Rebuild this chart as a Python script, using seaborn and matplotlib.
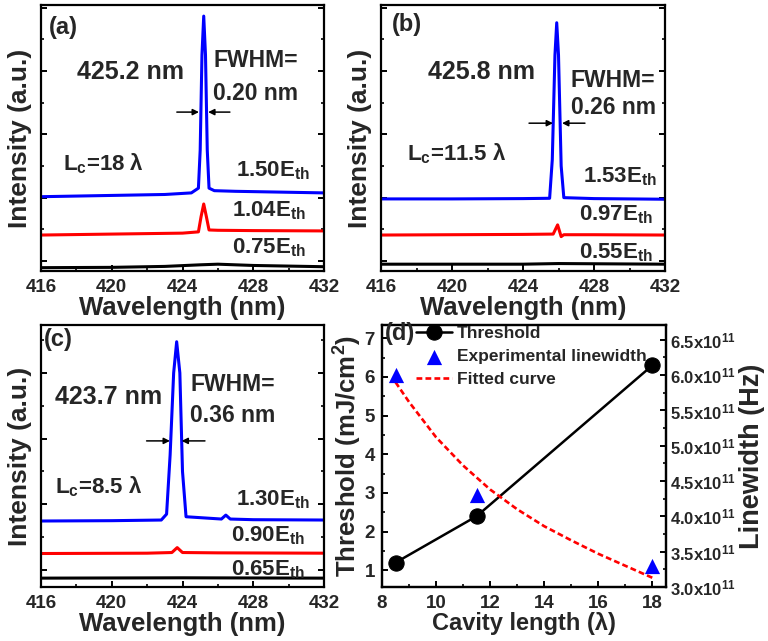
import numpy as np
import pandas as pd
import matplotlib
matplotlib.use("Agg")
import matplotlib.pyplot as plt
import seaborn as sns
from matplotlib.ticker import MultipleLocator, FixedLocator, FuncFormatter

# ---------------- data ----------------
# Panel (a)  L_c = 18 lambda
a_blue_x = [416, 420, 423, 424.5, 424.9, 425.0, 425.1, 425.2, 425.3, 425.4, 425.5, 425.8, 427, 430, 432]
a_blue_y = [3.03, 3.07, 3.10, 3.15, 3.30, 4.50, 7.50, 8.73, 7.50, 4.50, 3.30, 3.22, 3.20, 3.17, 3.15]
a_red_x = [416, 420, 424, 424.9, 425.05, 425.2, 425.35, 425.5, 426, 428, 432]
a_red_y = [1.82, 1.85, 1.88, 1.92, 2.40, 2.80, 2.40, 1.98, 1.97, 1.96, 1.95]
a_blk_x = [416, 420, 423, 425, 426, 428, 432]
a_blk_y = [0.79, 0.80, 0.83, 0.88, 0.90, 0.86, 0.82]

# Panel (b)  L_c = 11.5 lambda
b_blue_x = [416, 420, 424, 425.5, 425.65, 425.8, 425.9, 426.0, 426.15, 426.3, 428, 432]
b_blue_y = [2.96, 2.96, 2.97, 2.98, 4.20, 7.50, 8.52, 7.50, 4.00, 3.00, 2.97, 2.95]
b_red_x = [416, 420, 424, 425.7, 425.95, 426.15, 426.3, 428, 432]
b_red_y = [1.82, 1.83, 1.84, 1.85, 2.14, 1.77, 1.83, 1.83, 1.82]
b_blk_x = [416, 424, 426, 432]
b_blk_y = [0.90, 0.90, 0.92, 0.90]

# Panel (c)  L_c = 8.5 lambda
c_blue_x = [416, 420, 422.8, 423.1, 423.3, 423.5, 423.67, 423.85, 424.0, 424.2, 426.2, 426.45, 426.7, 428, 432]
c_blue_y = [2.49, 2.50, 2.52, 2.70, 4.50, 7.00, 7.95, 7.00, 4.00, 2.62, 2.55, 2.67, 2.55, 2.53, 2.52]
c_red_x = [416, 422, 423.4, 423.7, 424.0, 426, 432]
c_red_y = [1.50, 1.51, 1.53, 1.68, 1.53, 1.52, 1.51]
c_blk_x = [416, 424, 432]
c_blk_y = [0.75, 0.76, 0.75]

# Panel (d)
cavity = [8.5, 11.5, 18]
threshold = [1.2, 2.4, 6.3]
linewidth_exp = [6.0e11, 4.3e11, 3.3e11]
fit_x = [8.5, 9, 10, 11, 12, 13, 14, 15, 16, 17, 18]
fit_y = [5.90e11, 5.62e11, 5.12e11, 4.72e11, 4.38e11, 4.10e11, 3.86e11, 3.66e11, 3.47e11, 3.30e11, 3.13e11]

xticks_wl = [416, 420, 424, 428, 432]
# ---------------------------------------------------------------

sns.set_theme(style="ticks")
plt.rcParams["font.family"] = ["Liberation Sans", "DejaVu Sans"]
plt.rcParams["font.weight"] = "bold"
plt.rcParams["axes.labelweight"] = "bold"
plt.rcParams["mathtext.fontset"] = "custom"
plt.rcParams["mathtext.rm"] = "Liberation Sans:bold"
plt.rcParams["mathtext.it"] = "Liberation Sans:bold"
plt.rcParams["mathtext.bf"] = "Liberation Sans:bold"
plt.rcParams["axes.linewidth"] = 1.6

W, H = 768, 641
fig = plt.figure(figsize=(W / 100, H / 100), dpi=100)


def rect(l, t, r, b):
    return [l / W, 1 - b / H, (r - l) / W, (b - t) / H]


axA = fig.add_axes(rect(41, 5, 324, 271))
axB = fig.add_axes(rect(381, 5, 665, 271))
axC = fig.add_axes(rect(41, 325, 324, 587))
axD = fig.add_axes(rect(382, 325, 666, 587))
axD2 = axD.twinx()

LW = 2.2
TICKFS = 13.5
LABELFS = 18.5


def spectrum(ax, blue, red, blk, ylim):
    for (x, y), c in zip([blk, red, blue], ["black", "red", "blue"]):
        sns.lineplot(x=x, y=y, ax=ax, color=c, lw=LW, estimator=None, sort=False)
    ax.set_xlim(416, 432)
    ax.set_ylim(*ylim)
    ax.set_xticks(xticks_wl)
    ax.set_xticklabels([str(v) for v in xticks_wl], fontweight="bold", fontsize=TICKFS)
    ax.xaxis.set_minor_locator(MultipleLocator(2))
    ax.yaxis.set_major_locator(FixedLocator([1, 3, 5, 7, 9]))
    ax.yaxis.set_minor_locator(FixedLocator([2, 4, 6, 8]))
    ax.set_yticklabels([])
    ax.tick_params(axis="both", which="both", direction="in", right=True, top=False,
                   color="black")
    ax.tick_params(axis="both", which="major", length=4.5, width=1.4, pad=6)
    ax.tick_params(axis="both", which="minor", length=2.5, width=1.2)
    ax.set_xlabel("Wavelength (nm)", fontsize=LABELFS, fontweight="bold", labelpad=0)
    ax.set_ylabel("Intensity (a.u.)", fontsize=LABELFS + 0.5, fontweight="bold", labelpad=0.5)
    for s in ax.spines.values():
        s.set_color("black")
        s.set_linewidth(1.6)


spectrum(axA, (a_blue_x, a_blue_y), (a_red_x, a_red_y), (a_blk_x, a_blk_y), (0.685, 9.08))
spectrum(axB, (b_blue_x, b_blue_y), (b_red_x, b_red_y), (b_blk_x, b_blk_y), (0.685, 9.08))
spectrum(axC, (c_blue_x, c_blue_y), (c_red_x, c_red_y), (c_blk_x, c_blk_y), (0.48, 8.46))


def annotate_panel(ax, tag, wl, fwhm, lc, labels, pos):
    T = ax.transAxes
    ax.text(*pos["tag"], tag, transform=T, fontsize=17, fontweight="bold", ha="left", va="center")
    ax.text(*pos["wl"], wl, transform=T, fontsize=18, fontweight="bold", ha="left", va="center")
    ax.text(*pos["fw1"], "FWHM=", transform=T, fontsize=16.5, fontweight="bold", ha="left", va="center")
    ax.text(*pos["fw2"], fwhm, transform=T, fontsize=16.5, fontweight="bold", ha="left", va="center")
    ax.text(*pos["lc"], lc, transform=T, fontsize=16, fontweight="bold", ha="left", va="baseline")
    for (xy, lab) in zip(pos["E"], labels):
        ax.text(*xy, lab, transform=T, fontsize=16, fontweight="bold", ha="right", va="baseline")
    ay = pos["arrow_y"]
    (t1, h1), (t2, h2) = pos["arrows"]
    for tail, head in [(t1, h1), (t2, h2)]:
        ax.annotate("", xy=(head, ay), xytext=(tail, ay),
                    arrowprops=dict(arrowstyle="-|>", color="black", lw=1.1,
                                    mutation_scale=9, shrinkA=0, shrinkB=0))


annotate_panel(axA, "(a)", "425.2 nm", "0.20 nm", r"L$_{\rm c}$=18 λ",
               [r"1.50E$_{\rm th}$", r"1.04E$_{\rm th}$", r"0.75E$_{\rm th}$"],
               dict(tag=(0.029, 0.917), wl=(0.127, 0.748), fw1=(0.608, 0.793), fw2=(0.608, 0.669),
                    lc=(0.078, 0.38), E=[(0.95, 0.354), (0.935, 0.207), (0.935, 0.068)],
                    arrow_y=5.70, arrows=[(423.68, 424.93), (426.68, 425.45)]))
annotate_panel(axB, "(b)", "425.8 nm", "0.26 nm", r"L$_{\rm c}$=11.5 λ",
               [r"1.53E$_{\rm th}$", r"0.97E$_{\rm th}$", r"0.55E$_{\rm th}$"],
               dict(tag=(0.039, 0.925), wl=(0.165, 0.749), fw1=(0.669, 0.718), fw2=(0.669, 0.613),
                    lc=(0.092, 0.417), E=[(0.972, 0.332), (0.958, 0.189), (0.958, 0.049)],
                    arrow_y=5.35, arrows=[(424.34, 425.69), (427.49, 426.2)]))
annotate_panel(axC, "(c)", "423.7 nm", "0.36 nm", r"L$_{\rm c}$=8.5 λ",
               [r"1.30E$_{\rm th}$", r"0.90E$_{\rm th}$", r"0.65E$_{\rm th}$"],
               dict(tag=(0.009, 0.943), wl=(0.049, 0.726), fw1=(0.527, 0.771), fw2=(0.527, 0.656),
                    lc=(0.049, 0.358), E=[(0.95, 0.313), (0.933, 0.173), (0.933, 0.046)],
                    arrow_y=4.93, arrows=[(421.97, 423.29), (425.27, 423.95)]))

# ---------------- panel (d) ----------------
sns.lineplot(x=cavity, y=threshold, ax=axD, color="black", lw=1.8, marker="o",
             markersize=11, markeredgecolor="black", estimator=None, sort=False, label="Threshold")
h_thr = axD.lines[-1]
sns.lineplot(x=fit_x, y=fit_y, ax=axD2, color="red", lw=1.9, estimator=None, sort=False,
             label="Fitted curve")
h_fit = axD2.lines[-1]
h_fit.set_dashes([2.2, 1.2])
sns.scatterplot(x=cavity, y=linewidth_exp, ax=axD2, color="blue", marker="^", s=120,
                edgecolor="blue", linewidth=0, label="Experimental linewidth", zorder=5)
h_exp = axD2.collections[-1]
for a in (axD, axD2):
    if a.get_legend() is not None:
        a.get_legend().remove()

axD.set_xlim(8, 18.5)
axD.set_ylim(0.57, 7.34)
axD2.set_ylim(3.0e11, 6.71e11)
axD.xaxis.set_major_locator(FixedLocator([8, 10, 12, 14, 16, 18]))
axD.set_xticklabels(["8", "10", "12", "14", "16", "18"], fontweight="bold", fontsize=TICKFS)
axD.xaxis.set_minor_locator(MultipleLocator(1))
axD.yaxis.set_major_locator(FixedLocator([1, 2, 3, 4, 5, 6, 7]))
axD.set_yticklabels([str(v) for v in range(1, 8)], fontweight="bold", fontsize=TICKFS)
axD.yaxis.set_minor_locator(MultipleLocator(0.5))
lw_ticks = [3.0e11, 3.5e11, 4.0e11, 4.5e11, 5.0e11, 5.5e11, 6.0e11, 6.5e11]
axD2.yaxis.set_major_locator(FixedLocator(lw_ticks))
axD2.set_yticklabels([f"{v/1e11:.1f}x10$^{{11}}$" for v in lw_ticks], fontweight="bold",
                     fontsize=12)
axD2.yaxis.set_minor_locator(MultipleLocator(0.25e11))
for a in (axD, axD2):
    a.tick_params(axis="both", which="both", direction="in", top=False, color="black")
    a.tick_params(axis="both", which="major", length=4.5, width=1.4, pad=5)
    a.tick_params(axis="both", which="minor", length=2.5, width=1.2)
    for s in a.spines.values():
        s.set_color("black")
        s.set_linewidth(1.6)
axD.tick_params(axis="y", right=False, pad=5)
axD.tick_params(axis="x", pad=6)
axD2.tick_params(axis="y", left=False, pad=3)
axD.set_xlabel("Cavity length (λ)", fontsize=LABELFS - 1.5, fontweight="bold", labelpad=0)
axD.set_ylabel("Threshold (mJ/cm$^{2}$)", fontsize=LABELFS, fontweight="bold", labelpad=0.5)
axD2.set_ylabel("Linewidth (Hz)", fontsize=LABELFS + 1, fontweight="bold", labelpad=2)
axD.grid(False)
axD2.grid(False)

axD2.text(0.01, 0.969, "(d)", transform=axD.transAxes, fontsize=17, fontweight="bold",
          ha="left", va="center", zorder=10)
leg = axD2.legend(handles=[h_thr, h_exp, h_fit],
                  labels=["Threshold", "Experimental linewidth", "Fitted curve"],
                  loc="upper left", bbox_to_anchor=(0.118, 0.995), frameon=False,
                  fontsize=12.5, handlelength=2.1, handletextpad=0.3, labelspacing=0.45,
                  borderpad=0, borderaxespad=0)
for t in leg.get_texts():
    t.set_fontweight("bold")

fig.savefig("out.png", dpi=100)
